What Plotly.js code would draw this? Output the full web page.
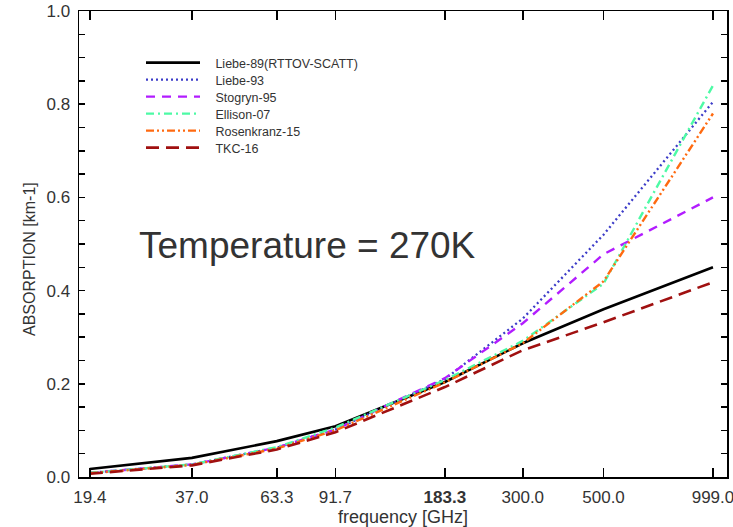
<!DOCTYPE html>
<html>
<head>
<meta charset="utf-8">
<script src="https://cdn.plot.ly/plotly-3.0.1.min.js"></script>
<style>html,body{margin:0;padding:0;background:#fff;}#chart{width:733px;height:527px;}</style>
</head>
<body>
<div id="chart"></div>
<script>
var freq = [19.4, 37.0, 63.3, 91.7, 183.3, 300.0, 500.0, 999.0];
var tickLabels = ["19.4", "37.0", "63.3", "91.7", "<b>183.3</b>", "300.0", "500.0", "999.0"];
var seriesNames = ["Liebe-89(RTTOV-SCATT)", "Liebe-93", "Stogryn-95", "Ellison-07", "Rosenkranz-15", "TKC-16"];
var liebe89    = [0.017, 0.041, 0.077, 0.109, 0.204, 0.287, 0.360, 0.450];
var liebe93    = [0.009, 0.027, 0.063, 0.102, 0.210, 0.340, 0.520, 0.805];
var stogryn95  = [0.009, 0.027, 0.063, 0.102, 0.212, 0.330, 0.478, 0.600];
var ellison07  = [0.009, 0.027, 0.064, 0.106, 0.208, 0.292, 0.415, 0.840];
var rosen15    = [0.008, 0.026, 0.061, 0.100, 0.203, 0.287, 0.420, 0.780];
var tkc16      = [0.007, 0.025, 0.059, 0.096, 0.193, 0.272, 0.332, 0.418];
var yMinorVals = [0, 0.05, 0.1, 0.15, 0.2, 0.25, 0.3, 0.35, 0.4, 0.45, 0.5, 0.55, 0.6, 0.65, 0.7, 0.75, 0.8, 0.85, 0.9, 0.95, 1.0];
var yMinorText = ["0.0", "", "", "", "0.2", "", "", "", "0.4", "", "", "", "0.6", "", "", "", "0.8", "", "", "", "1.0"];
var yMajorVals = [0, 0.2, 0.4, 0.6, 0.8, 1.0];

var styles = [
  {color: "#000000", width: 2.6, dash: "solid"},
  {color: "#3c3cc8", width: 2.3, dash: "2px,3px"},
  {color: "#b21cff", width: 2.4, dash: "9px,7px"},
  {color: "#4dfaa5", width: 2.4, dash: "8px,4px,2px,4px"},
  {color: "#ff6a10", width: 2.4, dash: "8px,3px,2px,3px,2px,3px"},
  {color: "#a01010", width: 2.6, dash: "13px,7px"}
];
var values = [liebe89, liebe93, stogryn95, ellison07, rosen15, tkc16];
var legendIds = ["legend", "legend2", "legend3", "legend4", "legend5", "legend6"];
var traces = values.map(function(v, i) {
  return {x: freq, y: v, type: "scatter", mode: "lines", name: "\u00a0\u00a0\u00a0" + seriesNames[i],
          line: styles[i], legend: legendIds[i]};
});

var txt = "#333333";
var legendRowPx = [63, 80, 97, 114, 131, 148];
function legendAt(py) {
  return {x: (141 - 79) / 648, y: (477 - py) / 466, xanchor: "left", yanchor: "middle",
          bgcolor: "rgba(0,0,0,0)", font: {size: 12.5, color: txt}, itemwidth: 54};
}

var layout = {
  width: 733, height: 527,
  margin: {l: 79, r: 6, t: 11, b: 50, pad: 0},
  paper_bgcolor: "#ffffff", plot_bgcolor: "#ffffff",
  font: {family: "Liberation Sans, Arial, sans-serif", color: txt},
  showlegend: true,
  xaxis: {
    type: "log", range: [Math.log10(19.4) - 0.0297, Math.log10(19.4) - 0.0297 + 1.78],
    tickmode: "array", tickvals: freq, ticktext: tickLabels,
    ticks: "inside", ticklen: 9, tickwidth: 1.5, tickcolor: "#000",
    showline: true, linecolor: "#000", linewidth: 1.5, mirror: "allticks",
    showgrid: false, zeroline: false, ticklabelstandoff: 4, ticklabeloverflow: "allow",
    tickfont: {size: 17, color: txt},
    title: {text: "frequency [GHz]", font: {size: 18, color: txt}, standoff: 1}
  },
  yaxis: {
    range: [0, 1.0], tickmode: "array", tickvals: yMinorVals, ticktext: yMinorText,
    ticks: "inside", ticklen: 6, tickwidth: 1.5, tickcolor: "#000",
    showline: true, linecolor: "#000", linewidth: 1.5, mirror: "allticks",
    showgrid: false, zeroline: false, ticklabelstandoff: 4,
    tickfont: {size: 17, color: txt}
  },
  yaxis2: {
    range: [0, 1.0], overlaying: "y", side: "left", anchor: "x",
    tickmode: "array", tickvals: yMajorVals, showticklabels: false,
    ticks: "inside", ticklen: 11, tickwidth: 1.5, tickcolor: "#000",
    showline: false, mirror: "allticks", showgrid: false, zeroline: false
  },
  annotations: [
    {text: "Temperature = 270K", xref: "paper", yref: "paper", x: 0.3526, y: 0.497,
     xanchor: "center", yanchor: "middle", showarrow: false,
     font: {size: 37, color: txt}},
    {text: "ABSORPTION [km-1]", xref: "paper", yref: "paper", x: (29 - 79) / 648, y: (477 - 259) / 466,
     xanchor: "center", yanchor: "middle", showarrow: false, textangle: -90,
     font: {size: 16, color: txt}}
  ]
};
legendIds.forEach(function(id, i) { layout[id] = legendAt(legendRowPx[i]); });

Plotly.newPlot("chart", traces, layout, {displayModeBar: false, staticPlot: true});
</script>
</body>
</html>
